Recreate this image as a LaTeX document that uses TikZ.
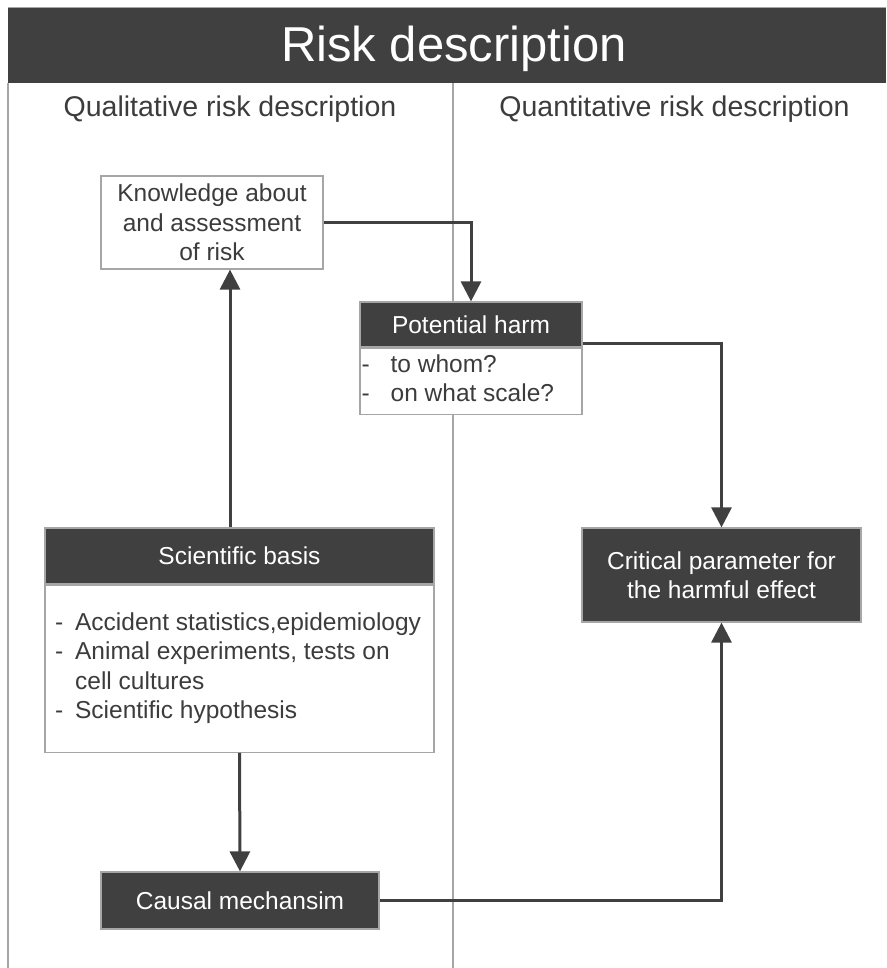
\documentclass[tikz,border=0pt]{standalone}
\usepackage{fontspec}
\setmainfont{Liberation Sans}
\usetikzlibrary{arrows.meta}
\definecolor{dark}{HTML}{404040}
\definecolor{rule}{HTML}{A6A6A6}
\definecolor{ink}{HTML}{3C3C3C}

\tikzset{
  bodyfont/.style={font=\fontsize{24.5}{29.5}\selectfont},
  whitebox/.style={draw=rule, line width=1.2pt, fill=white, text=ink, inner sep=0pt, bodyfont},
  darkbox/.style={draw=rule, line width=1.2pt, fill=dark, text=white, inner sep=0pt, bodyfont},
  conn/.style={draw=dark, line width=3pt, -{Triangle[length=20pt,width=20pt]}},
  divider/.style={draw=rule, line width=1.3pt},
}

\begin{document}
\begin{tikzpicture}[x=1pt,y=-1pt]
\useasboundingbox (0,0) rectangle (886,968);

% column rules
\draw[divider] (8,83) -- (8,968);
\draw[divider] (453,83) -- (453,968);

% title banner
\fill[dark] (8,8) rectangle (886,83);
\draw[rule, line width=1pt] (8,8) -- (886,8);
\node[anchor=base, text=white, font=\fontsize{49}{55}\selectfont] (title) at (454,62) {Risk description};

% column headings
\node[anchor=base, text=ink, font=\fontsize{28.5}{33}\selectfont] (qual) at (230,117) {Qualitative risk description};
\node[anchor=base, text=ink, font=\fontsize{28.5}{33}\selectfont] (quant) at (674.5,117) {Quantitative risk description};

% boxes
\node[whitebox, minimum width=222pt, minimum height=93pt, align=center] (kn) at (212,222.5)
  {Knowledge about\\and assessment\\of risk};

\node[darkbox, minimum width=222pt, minimum height=45pt] (ph) at (471,324.5) {Potential harm};
\node[whitebox, minimum width=222pt, minimum height=66pt, anchor=north] (phb) at (ph.south)
  {\makebox[222pt][l]{\hspace{1.5pt}\begin{tabular}{@{}l@{\hspace{21pt}}l@{}}-&to whom?\\-&on what scale?\end{tabular}}};

\node[darkbox, minimum width=389pt, minimum height=56pt] (sb) at (239.5,556) {Scientific basis};
\node[whitebox, minimum width=389pt, minimum height=167pt, anchor=north] (sbb) at (sb.south)
  {\makebox[389pt][l]{\hspace{10pt}\begin{tabular}{@{}l@{\hspace{12pt}}l@{}}-&Accident statistics,epidemiology\\-&Animal experiments, tests on\\&cell cultures\\-&Scientific hypothesis\end{tabular}}};

\node[darkbox, minimum width=279pt, minimum height=94pt, align=center] (cp) at (721.5,575)
  {Critical parameter for\\the harmful effect};

\node[darkbox, minimum width=278pt, minimum height=57pt] (cm) at (240,900.5) {Causal mechansim};

% connectors
\draw[conn] (kn.east) -| (ph.north);
\draw[conn] ([xshift=-9.5pt]sb.north) -- ([xshift=-9.5pt]sb.north |- kn.south);
\draw[conn] ([yshift=-18.5pt]ph.east) -| (cp.north);
\draw[conn] (sbb.south) -- (cm.north);
\draw[conn] (cm.east) -| (cp.south);
\end{tikzpicture}
\end{document}
